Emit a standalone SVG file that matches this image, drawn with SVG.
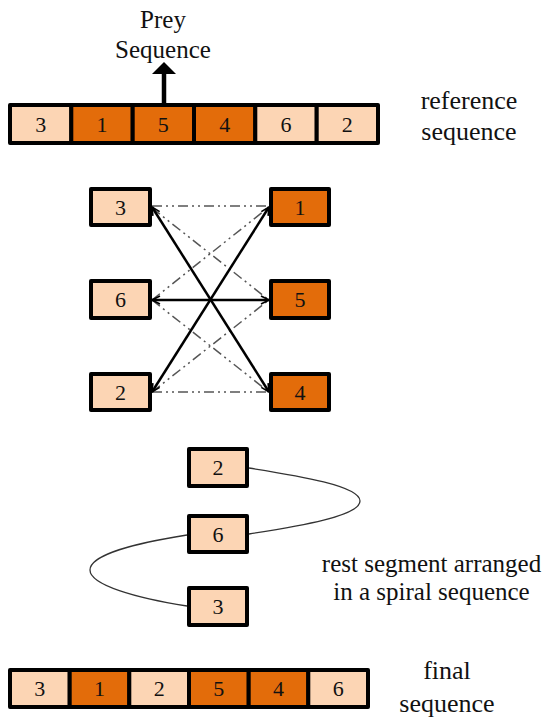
<svg xmlns="http://www.w3.org/2000/svg" width="550" height="728" viewBox="0 0 550 728">
<defs>
<style>
.lt{fill:#FCD5B4;stroke:#000;stroke-width:4;stroke-linejoin:round}
.dk{fill:#E36C0A;stroke:#000;stroke-width:4;stroke-linejoin:round}
text{font-family:'Liberation Serif','DejaVu Serif',serif;fill:#111;text-anchor:middle}
.num{font-size:22px}
.lbl{font-size:26px}
.lbl2{font-size:25px}
.solid{stroke:#000;stroke-width:2.5;fill:none;marker-start:url(#ah);marker-end:url(#ah)}
.dash{stroke:#555;stroke-width:1.5;fill:none;stroke-dasharray:10 4 2 4 2 4}
.spiral{stroke:#333;stroke-width:1.3;fill:none}
</style>
<marker id="ah" viewBox="0 0 10 10" refX="9" refY="5" markerWidth="4" markerHeight="4" orient="auto-start-reverse" markerUnits="strokeWidth">
<path d="M1,1 L9,5 L1,9" fill="none" stroke="#000" stroke-width="1.6"/>
</marker>
</defs>
<rect width="550" height="728" fill="#fff"/>

<g id="prey-label" font-family="Liberation Serif, DejaVu Serif, serif">
<text class="lbl2" x="163" y="28">Prey</text>
<text class="lbl2" x="163" y="58">Sequence</text>
<line x1="164" y1="103" x2="164" y2="72" stroke="#000" stroke-width="4.5"/>
<polygon points="152,74 176,74 164,62" fill="#000"/>
</g>

<g id="reference-sequence" font-family="Liberation Serif, DejaVu Serif, serif">
<rect class="lt" x="10" y="105" width="61.3" height="38"/>
<rect class="dk" x="71.3" y="105" width="61.4" height="38"/>
<rect class="dk" x="132.7" y="105" width="61.3" height="38"/>
<rect class="dk" x="194" y="105" width="61.3" height="38"/>
<rect class="lt" x="255.3" y="105" width="61.4" height="38"/>
<rect class="lt" x="316.7" y="105" width="61.3" height="38"/>
<text class="num" x="40.7" y="132">3</text>
<text class="num" x="102" y="132">1</text>
<text class="num" x="163.3" y="132">5</text>
<text class="num" x="224.7" y="132">4</text>
<text class="num" x="286" y="132">6</text>
<text class="num" x="347.3" y="132">2</text>
</g>
<g id="reference-label" font-family="Liberation Serif, DejaVu Serif, serif">
<text class="lbl" x="469" y="109">reference</text>
<text class="lbl" x="469" y="140">sequence</text>
</g>

<g id="connectors">
<line class="dash" x1="152" y1="206" x2="269" y2="206"/>
<line class="dash" x1="152" y1="392" x2="269" y2="392"/>
<line class="dash" x1="152" y1="208" x2="269" y2="300"/>
<line class="dash" x1="152" y1="300" x2="269" y2="207"/>
<line class="dash" x1="152" y1="300" x2="269" y2="392"/>
<line class="dash" x1="152" y1="392" x2="269" y2="300"/>
<line class="solid" x1="152" y1="207" x2="269" y2="392"/>
<line class="solid" x1="152" y1="392" x2="269" y2="207"/>
<line class="solid" x1="152" y1="300" x2="269" y2="300"/>
<path class="spiral" d="M249,468 C300,476 360,486 360,501 C360,516 300,526 249,534"/>
<path class="spiral" d="M187,535 C136,543 90,555 90,570 C90,585 136,598 187,606"/>
</g>

<g id="left-3" font-family="Liberation Serif, DejaVu Serif, serif"><rect class="lt" x="91" y="189" width="59" height="36"/><text class="num" x="120.5" y="215">3</text></g>
<g id="left-6" font-family="Liberation Serif, DejaVu Serif, serif"><rect class="lt" x="91" y="281" width="59" height="37"/><text class="num" x="120.5" y="307">6</text></g>
<g id="left-2" font-family="Liberation Serif, DejaVu Serif, serif"><rect class="lt" x="91" y="374" width="59" height="36"/><text class="num" x="120.5" y="400">2</text></g>
<g id="right-1" font-family="Liberation Serif, DejaVu Serif, serif"><rect class="dk" x="271" y="189" width="58" height="36"/><text class="num" x="300" y="215">1</text></g>
<g id="right-5" font-family="Liberation Serif, DejaVu Serif, serif"><rect class="dk" x="271" y="281" width="58" height="37"/><text class="num" x="300" y="307">5</text></g>
<g id="right-4" font-family="Liberation Serif, DejaVu Serif, serif"><rect class="dk" x="271" y="374" width="58" height="36"/><text class="num" x="300" y="400">4</text></g>

<g id="spiral-2" font-family="Liberation Serif, DejaVu Serif, serif"><rect class="lt" x="189" y="449" width="58" height="37"/><text class="num" x="218" y="475">2</text></g>
<g id="spiral-6" font-family="Liberation Serif, DejaVu Serif, serif"><rect class="lt" x="189" y="516" width="58" height="36"/><text class="num" x="218" y="542">6</text></g>
<g id="spiral-3" font-family="Liberation Serif, DejaVu Serif, serif"><rect class="lt" x="189" y="588" width="58" height="37"/><text class="num" x="218" y="614">3</text></g>
<g id="spiral-label" font-family="Liberation Serif, DejaVu Serif, serif">
<text class="lbl2" x="431.5" y="572">rest segment arranged</text>
<text class="lbl2" x="431.5" y="600">in a spiral sequence</text>
</g>

<g id="final-sequence" font-family="Liberation Serif, DejaVu Serif, serif">
<rect class="lt" x="10" y="670" width="59.7" height="37"/>
<rect class="dk" x="69.7" y="670" width="59.6" height="37"/>
<rect class="lt" x="129.3" y="670" width="59.7" height="37"/>
<rect class="dk" x="189" y="670" width="59.7" height="37"/>
<rect class="dk" x="248.7" y="670" width="59.6" height="37"/>
<rect class="lt" x="308.3" y="670" width="59.7" height="37"/>
<text class="num" x="39.8" y="696">3</text>
<text class="num" x="99.5" y="696">1</text>
<text class="num" x="159.2" y="696">2</text>
<text class="num" x="218.8" y="696">5</text>
<text class="num" x="278.5" y="696">4</text>
<text class="num" x="338.2" y="696">6</text>
</g>
<g id="final-label" font-family="Liberation Serif, DejaVu Serif, serif">
<text class="lbl" x="447" y="679">final</text>
<text class="lbl" x="447" y="712">sequence</text>
</g>
</svg>
